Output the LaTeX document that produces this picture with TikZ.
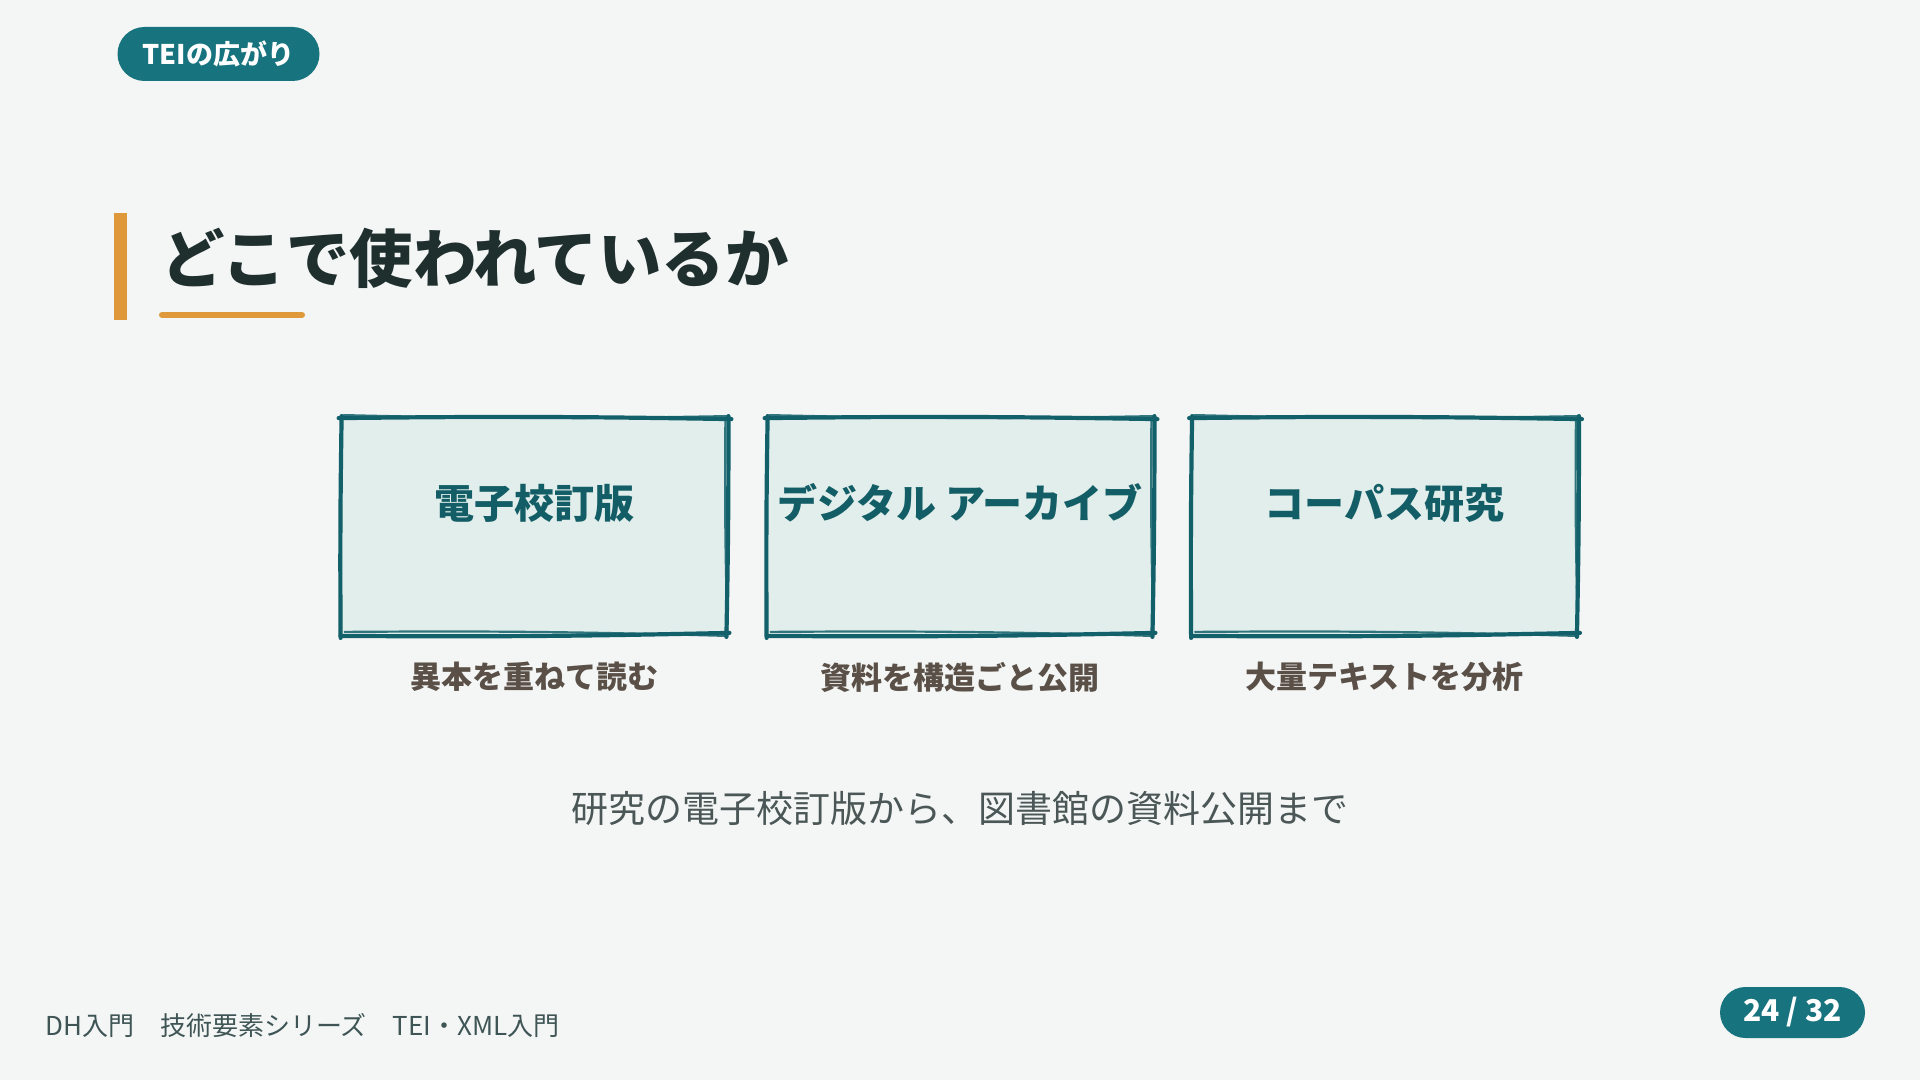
\documentclass[tikz,border=0pt]{standalone}
\usepackage{fontspec}
\setmainfont{Noto Sans CJK JP}[BoldFont={Noto Sans CJK JP Bold}]
\newfontfamily\heavyfont{Noto Sans CJK JP Black}
\definecolor{bg}{HTML}{F4F6F5}
\definecolor{teal}{HTML}{17737D}
\definecolor{boxstroke}{HTML}{12606A}
\definecolor{boxfill}{HTML}{E1EEEB}
\definecolor{boxtext}{HTML}{135E66}
\definecolor{titlec}{HTML}{1F2F2E}
\definecolor{orange}{HTML}{E0993A}
\definecolor{subc}{HTML}{5A5048}
\definecolor{capc}{HTML}{4A5756}
\definecolor{footc}{HTML}{3F5555}
\tikzset{
  pill/.style={fill=teal, rounded corners=13.5pt, text=white, font=\heavyfont\fontsize{13.5pt}{15pt}\selectfont, inner sep=0pt},
  boxnode/.style={fill=boxfill, minimum width=192pt, minimum height=107pt, inner sep=0pt, draw=none},
  skline/.style={draw=boxstroke, line width=2.1pt, line cap=round},
  skthin/.style={draw=boxstroke, line width=1.1pt, line cap=round, opacity=0.85},
  boxlabel/.style={text=boxtext, font=\heavyfont\fontsize{20pt}{23pt}\selectfont, inner sep=0pt},
  sublabel/.style={text=subc, font=\heavyfont\fontsize{15.5pt}{18pt}\selectfont, inner sep=0pt},
}
\newcommand\skbox[1]{%
  % top
  \draw[skline] ([shift={(-3,-1)}]#1.north west) to[bend left=0.8] ([shift={(5,0)}]#1.north east);
  \draw[skthin] ([shift={(2,-4)}]#1.north west) to[bend right=1.2] ([shift={(1,-3)}]#1.north east);
  % bottom
  \draw[skline] ([shift={(-1,2)}]#1.south west) to[bend right=0.8] ([shift={(3,-1)}]#1.south east);
  \draw[skthin] ([shift={(3,-2)}]#1.south west) to[bend left=1.0] ([shift={(0,2)}]#1.south east);
  % left
  \draw[skline] ([shift={(0,-3)}]#1.north west) to[bend right=0.6] ([shift={(-1,4)}]#1.south west);
  % right
  \draw[skline] ([shift={(2,-3)}]#1.north east) to[bend left=0.6] ([shift={(0,3)}]#1.south east);
  \draw[skthin] ([shift={(-1,0)}]#1.north east) to[bend right=1] ([shift={(1,-2)}]#1.south east);
}
\begin{document}
\begin{tikzpicture}[x=0.5pt, y=-0.5pt]
\useasboundingbox[fill=bg] (0,0) rectangle (1920,1080);

% tag
\node[pill, minimum width=101pt, minimum height=27pt] (tag) at (218.5,54) {TEIの広がり};

% title
\fill[orange] (114,213) rectangle (127,320);
\node[anchor=west, text=titlec, inner sep=0pt, font=\heavyfont\fontsize{31.7pt}{36pt}\selectfont] (title) at (161,258) {どこで使われているか};
\draw[orange, line width=3pt, line cap=round] (162,315) coordinate (ul1) -- (302,315) coordinate (ul2);

% boxes
\node[boxnode] (b1) at (534,526.5) {};
\node[boxnode] (b2) at (960,526.5) {};
\node[boxnode] (b3) at (1384.5,526.5) {};
\skbox{b1}
\skbox{b2}
\skbox{b3}
\node[boxlabel] (l1) at (534,503) {電子校訂版};
\node[boxlabel] (l2) at (960,503) {デジタル アーカイブ};
\node[boxlabel] (l3) at (1384.5,503) {コーパス研究};
\node[sublabel] (s1) at (534,677) {異本を重ねて読む};
\node[sublabel] (s2) at (960,677) {資料を構造ごと公開};
\node[sublabel] (s3) at (1384.5,677) {大量テキストを分析};

% caption
\node[text=capc, inner sep=0pt, font=\fontsize{18.5pt}{22pt}\selectfont] (cap) at (960,808) {研究の電子校訂版から、図書館の資料公開まで};

% footer
\node[anchor=west, text=footc, inner sep=0pt, font=\fontsize{13pt}{16pt}\selectfont] (foot) at (45,1026) {DH入門　技術要素シリーズ　TEI・XML入門};
\node[pill, rounded corners=12.75pt, minimum width=72.5pt, minimum height=25.5pt, font=\heavyfont\fontsize{15pt}{18pt}\selectfont] (page) at (1792.5,1012.5) {24 / 32};
\end{tikzpicture}
\end{document}
